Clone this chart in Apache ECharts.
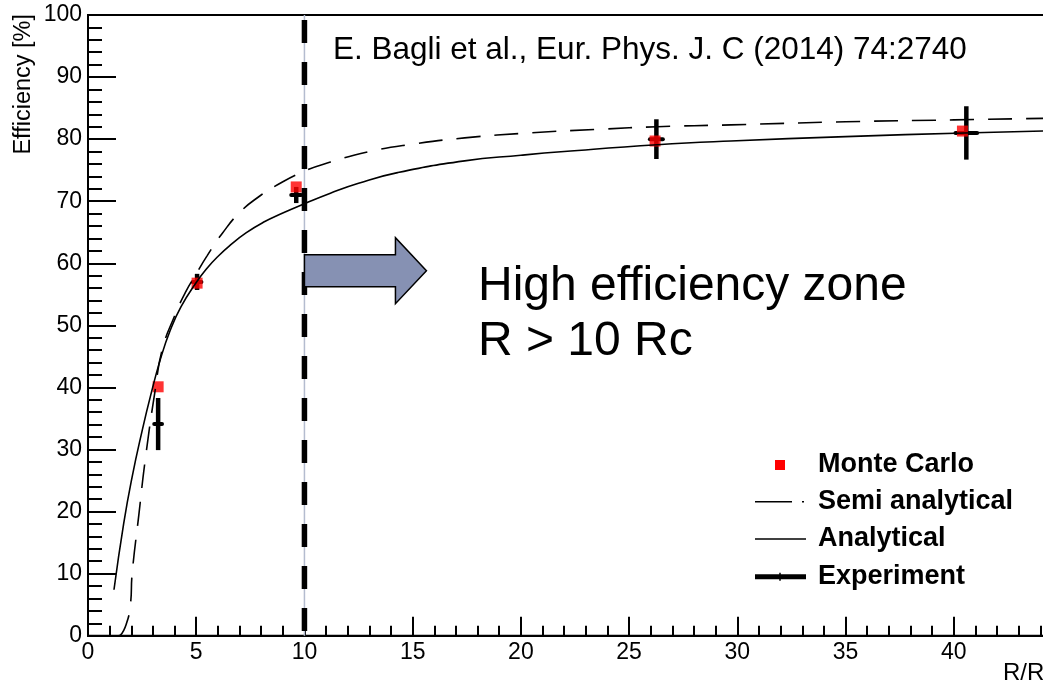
<!DOCTYPE html>
<html>
<head>
<meta charset="utf-8">
<script src="https://cdn.jsdelivr.net/npm/echarts@6/dist/echarts.min.js"></script>
<style>
  html, body { margin: 0; padding: 0; background: #fff; }
  #chart { width: 1043px; height: 687px; }
</style>
</head>
<body>
<div id="chart"></div>
<script>
// curves: [R/Rc, efficiency %]
var analytical = [
  [1.2, 7.4], [1.65, 18.1], [2.04, 25.6], [2.5, 33.0], [2.9, 38.8], [3.35, 44.6],
  [3.8, 49.2], [4.3, 53.0], [5.0, 56.9], [5.5, 59.2], [6.0, 61.1], [6.6, 63.0],
  [7.3, 64.9], [8.1, 66.6], [9.0, 68.1], [10, 69.6], [11.2, 71.3], [12.5, 72.9],
  [14.3, 74.6], [17.4, 76.5], [20, 77.4], [22, 78.0], [26.3, 79.1], [29.7, 79.7],
  [35, 80.4], [40.5, 81.0], [45, 81.4]
];
var semiAnalytical = [
  [1.4, 0], [1.5, 0.1], [1.78, 2.0], [1.96, 5.0], [2.04, 10], [2.35, 19.5],
  [2.65, 28.5], [3.1, 39.5], [3.43, 46.1], [4.0, 51.5], [4.5, 55.3], [5.0, 58.3],
  [5.5, 61.2], [6.2, 64.8], [7.04, 68.3], [8.0, 71.0], [8.58, 72.3], [9.97, 74.8],
  [11.2, 76.3], [13, 78.0], [15, 79.2], [17.4, 80.2], [20.4, 81.0], [23.7, 81.6],
  [26.3, 82.0], [29.7, 82.3], [35, 82.8], [40, 83.1], [45, 83.4]
];
// Monte Carlo points
var mcX = [3.24, 5.04, 9.62, 26.2, 40.4];
var mcY = [40.1, 56.8, 72.3, 79.7, 81.3];
// experiment with errors
var expX = [3.24, 5.04, 9.62, 26.26, 40.58];
var expY = [34.1, 57.0, 71.0, 80.0, 81.0];
var expYErr = [4.2, 1.3, 1.3, 3.2, 4.3];
var expXErr = [0.18, 0.2, 0.23, 0.3, 0.5];
// high efficiency zone starts at R = 10 Rc
var zoneStart = 10;

var FONT = 'Liberation Sans';

var chart = echarts.init(document.getElementById('chart'));

var mcData = mcX.map(function (x, i) { return [x, mcY[i]]; });
var expData = expX.map(function (x, i) { return [x, expY[i], expYErr[i], expXErr[i]]; });

var axisCommon = {
  type: 'value',
  axisLine: { lineStyle: { color: '#000', width: 2 } },
  axisTick: { inside: true, lineStyle: { color: '#000', width: 2 } },
  minorTick: { show: true, splitNumber: 5, lineStyle: { color: '#000', width: 2 } },
  splitLine: { show: false },
  axisLabel: { color: '#000', fontSize: 23, fontFamily: FONT }
};

chart.setOption({
  animation: false,
  backgroundColor: '#fff',
  grid: {
    left: 88, top: 15, width: 974, height: 620.7,
    show: true, borderColor: '#000', borderWidth: 2,
    outerBoundsMode: 'none'
  },
  xAxis: echarts.util.merge({
    min: 0, max: 45, interval: 5,
    axisTick: { length: 19 },
    minorTick: { length: 10 },
    axisLabel: { margin: 5 }
  }, axisCommon),
  yAxis: echarts.util.merge({
    min: 0, max: 100, interval: 10,
    axisTick: { length: 28 },
    minorTick: { length: 14 },
    axisLabel: { margin: 6 }
  }, axisCommon),
  series: [
    {
      name: 'Analytical', type: 'line', data: analytical,
      showSymbol: false, smooth: 0.5,
      lineStyle: { color: '#000', width: 1.6 }
    },
    {
      name: 'Semi analytical', type: 'line', data: semiAnalytical,
      showSymbol: false, smooth: 0.5,
      lineStyle: { color: '#000', width: 1.6, type: [24, 14] }
    },
    {
      // thin guide under the thick dashes
      type: 'line', data: [[zoneStart, 100], [zoneStart, 0]],
      showSymbol: false, silent: true,
      lineStyle: { color: '#b4bccf', width: 1.5 }
    },
    {
      type: 'line', data: [[zoneStart, 100], [zoneStart, 0]],
      showSymbol: false, silent: true,
      lineStyle: { color: '#000', width: 5.5, type: [23, 19], dashOffset: 37 }
    },
    {
      name: 'Monte Carlo', type: 'scatter', data: mcData,
      symbol: 'rect', symbolSize: 11,
      itemStyle: { color: '#ff0000' }
    },
    {
      name: 'Experiment', type: 'custom', data: expData,
      renderItem: function (params, api) {
        var x = api.value(0), y = api.value(1), ey = api.value(2), ex = api.value(3);
        var top = api.coord([x, y + ey]), bot = api.coord([x, y - ey]);
        var l = api.coord([x - ex, y]), r = api.coord([x + ex, y]);
        return {
          type: 'group',
          children: [
            { type: 'line', shape: { x1: top[0], y1: top[1], x2: bot[0], y2: bot[1] },
              style: { stroke: '#000', lineWidth: 4.5 } },
            { type: 'line', shape: { x1: l[0], y1: l[1], x2: r[0], y2: r[1] },
              style: { stroke: '#000', lineWidth: 4, lineCap: 'round' } }
          ]
        };
      }
    }
  ]
});

// arrow pointing into the high efficiency zone
var p0 = chart.convertToPixel({ gridIndex: 0 }, [zoneStart, 58.8]);
var ax = p0[0], ay = p0[1];
var arrowPts = [
  [ax, ay - 16], [ax + 91, ay - 16], [ax + 91, ay - 33], [ax + 122, ay],
  [ax + 91, ay + 33], [ax + 91, ay + 16], [ax, ay + 16]
];

// legend rows
var lx = 755, lx2 = 806, tx = 818;
var rows = [465, 501.7, 539, 576.7];
function legendText(t, y) {
  return { type: 'text', x: tx, y: y,
    style: { text: t, fontSize: 27, fontWeight: 'bold', fontFamily: FONT, fill: '#000',
      align: 'left', verticalAlign: 'middle' } };
}

chart.setOption({
  graphic: [
    { type: 'polygon', shape: { points: arrowPts },
      style: { fill: '#8691b3', stroke: '#000', lineWidth: 1.5 }, z: 100 },
    { type: 'text', x: 478, y: 286.4,
      style: { text: 'High efficiency zone', fontSize: 48, fontFamily: FONT, fill: '#000',
        align: 'left', verticalAlign: 'middle' } },
    { type: 'text', x: 478, y: 341.4,
      style: { text: 'R > 10 Rc', fontSize: 48, fontFamily: FONT, fill: '#000',
        align: 'left', verticalAlign: 'middle' } },
    { type: 'text', x: 333, y: 50,
      style: { text: 'E. Bagli et al., Eur. Phys. J. C (2014) 74:2740', fontSize: 31.5,
        fontFamily: FONT, fill: '#000', align: 'left', verticalAlign: 'middle' } },
    { type: 'text', x: 12, y: 14, rotation: Math.PI / 2,
      style: { text: 'Efficiency [%]', fontSize: 23.5, fontFamily: FONT, fill: '#000',
        align: 'right', verticalAlign: 'top' } },
    { type: 'text', x: 1003, y: 673,
      style: { text: 'R/R{c|c}', fontSize: 24, fontFamily: FONT, fill: '#000',
        align: 'left', verticalAlign: 'middle', rich: { c: { fontSize: 15, fontFamily: FONT } } } },
    // legend symbols
    { type: 'rect', shape: { x: 775, y: rows[0] - 5, width: 10, height: 10 },
      style: { fill: '#ff0000' } },
    { type: 'polyline', shape: { points: [[lx, rows[1]], [lx2, rows[1]]] },
      style: { stroke: '#000', lineWidth: 1.5, lineDash: [37, 10, 2, 10] } },
    { type: 'polyline', shape: { points: [[lx, rows[2]], [lx2, rows[2]]] },
      style: { stroke: '#000', lineWidth: 1.5 } },
    { type: 'polyline', shape: { points: [[lx, rows[3]], [lx2, rows[3]]] },
      style: { stroke: '#000', lineWidth: 5 } },
    { type: 'polyline', shape: { points: [[780, rows[3] - 4], [780, rows[3] + 4]] },
      style: { stroke: '#000', lineWidth: 1.5 } },
    legendText('Monte Carlo', rows[0]),
    legendText('Semi analytical', rows[1]),
    legendText('Analytical', rows[2]),
    legendText('Experiment', rows[3])
  ]
});
</script>
</body>
</html>
